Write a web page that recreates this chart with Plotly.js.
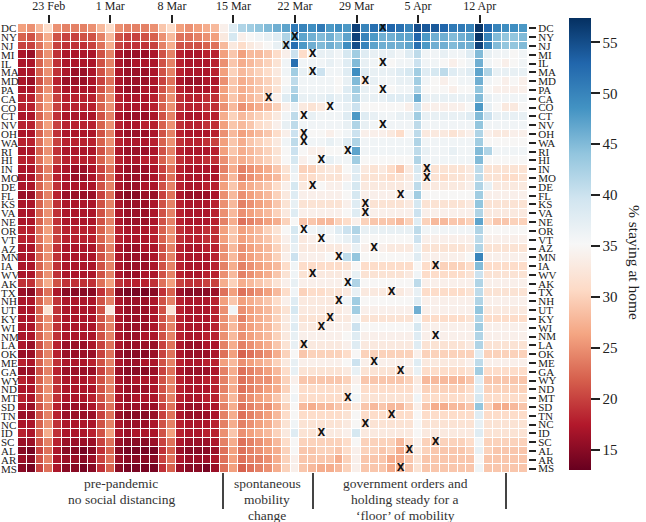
<!DOCTYPE html>
<html><head><meta charset="utf-8">
<script src="https://cdn.plot.ly/plotly-3.0.1.min.js"></script>
<style>html,body{margin:0;padding:0;background:#fff}#chart{width:646px;height:522px}</style>
</head><body><div id="chart"></div>
<script>
// Columns: one per day, 20 Feb 2020 (index 0) .. 17 Apr 2020 (index 57)
const states = ['DC','NY','NJ','MI','IL','MA','MD','PA','CA','CO','CT','NV','OH','WA','RI','HI','IN','MO','DE','FL','KS','VA','NE','OR','VT','AZ','MN','IA','WV','AK','TX','NH','UT','KY','WI','NM','LA','OK','ME','GA','WY','ND','MT','SD','TN','NC','ID','SC','AL','AR','MS'];

const DC = [26,25,28,31,25,24,24,24,25,28,31,25,24,24,24,25,29,31,26,25,26,27,28, 34,38,42,43,44,45,46,47,51, 50,49,51,48,49,48,56,50,52,51,53,52,50,55,54,54,53,51,51,50,57,53,50,49,49,48];
const NY = [22,21,24,27,21,20,20,21,21,24,28,21,20,20,21,22,25,28,23,23,24,25,26, 33,39,34,35,36,37,38,42,48, 47,46,45,46,44,47,56,50,48,46,46,47,47,53,48,46,46,45,46,47,57,50,45,44,44,45];
const NJ = [20,20,23,26,20,19,19,19,20,23,27,20,19,19,19,20,24,27,21,21,21,22,23, 28,33,31,33,34,35,37,41,52, 48,46,45,46,45,49,55,50,47,46,46,46,47,52,48,46,46,45,46,46,56,50,45,44,44,45];
const MI = [17,16,22,25,19,17,17,17,17,21,24,17,16,16,16,17,21,24,18,17,17,18,18, 26,29,26,28,28,29,31,34,40, 31,35,37,37,36,39,43,38,37,37,37,36,38,41,36,36,37,36,36,38,45,37,36,36,35,36];
const IL = [17,17,22,25,19,17,17,17,17,21,24,17,16,17,17,17,21,24,18,17,17,17,18, 25,29,27,28,29,30,32,36,52, 36,36,36,37,36,38,45,37,36,37,35,36,36,40,36,36,35,34,35,36,46,36,35,34,35,36];
const MA = [17,17,22,25,19,17,16,16,17,21,24,17,16,16,16,17,21,24,18,17,17,17,18, 26,30,28,29,30,31,33,36,43, 37,37,40,36,36,38,49,38,37,37,37,38,39,43,38,39,41,38,37,38,47,42,37,37,37,37];
const MD = [17,16,21,24,18,16,16,16,17,20,23,17,16,16,16,17,20,23,17,16,16,17,17, 25,29,27,28,29,30,32,35,41, 36,36,36,36,35,37,45,33,37,36,36,37,37,43,36,35,34,35,36,36,46,36,35,34,35,34];
const PA = [17,17,22,25,19,17,17,17,17,21,24,17,16,16,17,17,21,24,18,17,17,17,18, 26,29,27,28,29,30,32,36,42, 36,36,36,36,35,38,43,37,36,36,35,36,36,42,35,35,35,34,35,35,44,35,34,34,34,34];
const CA = [18,18,23,26,20,18,18,18,18,22,25,18,17,17,17,18,22,25,19,18,18,19,19, 26,29,27,28,29,31,34,38,43, 37,37,37,38,37,38,42,37,37,37,38,38,38,46,37,37,37,37,37,37,45,37,36,36,36,36];
const CO = [18,18,23,26,20,18,18,18,18,22,25,18,17,17,17,18,22,25,19,18,18,19,19, 25,28,25,26,27,28,30,34,37, 33,32,33,35,36,37,40,35,35,35,35,35,34,40,34,34,34,34,34,35,48,37,35,33,33,35];
const CT = [17,17,22,25,19,17,17,17,17,21,24,17,16,16,16,17,21,24,18,17,17,18,18, 27,30,28,29,30,31,33,36,41, 35,37,36,36,36,38,48,38,37,36,36,37,37,43,37,37,37,37,37,38,45,40,37,37,37,37];
const NV = [18,18,23,26,20,18,18,18,18,22,25,18,17,17,18,18,22,25,19,18,18,19,19, 26,29,28,29,31,32,34,37,41, 36,36,36,36,36,37,42,37,36,36,36,36,36,41,36,36,36,36,36,36,44,36,36,36,36,36];
const OH = [17,17,22,25,19,17,17,17,17,21,24,17,16,16,16,17,21,24,18,17,17,17,18, 25,28,26,27,28,29,31,34,40, 34,35,35,34,35,36,40,34,34,34,33,31,35,41,33,33,33,32,33,34,42,34,33,33,34,34];
const WA = [18,18,23,26,20,18,18,18,18,22,25,18,17,17,17,18,22,25,19,18,18,19,20, 26,29,27,29,30,31,33,36,41, 35,36,36,37,36,38,42,36,36,36,36,36,36,42,36,36,36,36,36,36,43,35,35,35,35,35];
const RI = [17,17,22,25,19,17,17,17,17,21,24,17,16,16,16,17,21,24,18,17,17,17,18, 26,29,27,28,29,30,32,35,40, 35,34,34,35,35,36,47,36,36,36,36,36,36,41,37,36,36,37,36,36,45,42,36,36,36,36];
const HI = [18,18,23,26,20,18,18,18,18,22,25,18,17,17,18,18,22,25,19,18,18,19,19, 25,28,27,28,29,30,32,35,39, 34,35,36,37,36,36,43,35,35,35,35,35,35,42,36,36,36,36,36,36,45,35,35,35,35,35];
const IN = [17,17,21,24,18,17,16,16,17,20,23,17,16,16,16,17,20,23,18,17,17,17,17, 24,27,24,25,26,27,29,32,37, 30,30,32,33,32,35,38,33,32,33,31,29,33,39,32,32,32,32,32,33,41,32,32,32,32,32];
const MO = [17,17,21,24,18,17,16,16,17,20,23,17,16,16,16,17,20,23,18,17,17,17,17, 25,28,24,25,26,27,28,31,36, 31,31,32,32,32,34,38,32,32,32,31,32,33,38,32,32,31,32,32,33,41,32,32,31,31,32];
const DE = [17,17,22,25,19,17,17,17,17,21,24,17,16,16,17,17,21,24,18,17,17,18,18, 26,29,26,27,28,29,31,34,39, 33,34,35,34,34,36,39,33,33,33,33,33,34,41,33,33,33,33,33,34,42,37,33,33,33,33];
const FL = [16,16,21,24,18,16,16,16,16,20,23,16,15,15,16,16,20,23,17,16,16,16,17, 25,28,25,26,27,28,30,33,38, 34,34,34,34,34,35,39,34,34,34,34,34,36,43,35,35,35,35,35,35,43,34,34,34,34,34];
const KS = [17,17,22,25,19,17,17,17,17,21,24,17,16,16,16,17,21,24,18,17,17,17,18, 25,28,24,25,26,27,29,32,37, 32,32,32,32,32,34,38,33,32,32,32,32,33,39,32,32,32,32,32,33,44,32,32,32,32,32];
const VA = [17,17,22,25,19,17,17,17,17,21,24,17,16,16,16,17,21,24,18,17,17,17,18, 25,28,25,26,27,28,30,33,38, 34,34,34,34,34,35,38,34,34,34,34,34,34,40,34,34,34,34,34,34,42,33,33,33,33,33];
const NE = [17,17,22,25,19,17,17,17,17,21,24,17,16,16,16,17,21,24,18,17,17,17,18, 24,27,23,24,25,26,27,30,35, 29,29,28,28,30,31,34,30,29,29,29,28,30,38,30,28,28,29,29,30,47,31,29,29,30,30];
const OR = [18,18,23,26,20,18,18,18,18,22,25,18,17,17,17,18,22,25,19,18,18,19,19, 26,29,26,27,28,30,32,35,39, 35,36,37,36,38,40,42,37,37,37,37,37,37,41,36,36,36,36,36,36,42,35,35,35,35,35];
const VT = [18,18,23,26,20,18,18,18,18,22,25,18,17,17,17,18,22,25,19,18,18,19,19, 26,29,26,27,28,29,31,34,38, 33,34,35,35,36,37,40,35,35,35,35,35,35,40,34,34,34,34,34,34,41,34,34,34,34,34];
const AZ = [17,17,22,25,19,17,17,17,17,21,24,17,16,16,17,17,21,24,18,17,17,18,18, 25,28,25,26,27,28,30,33,37, 33,33,33,33,33,34,37,34,34,34,33,33,33,37,32,32,32,32,32,33,42,32,32,32,32,32];
const MN = [17,17,22,25,19,17,17,17,17,21,24,17,16,16,16,17,21,24,18,17,17,17,18, 25,28,25,26,27,28,30,34,40, 34,34,34,35,34,41,44,35,35,35,35,35,35,38,34,34,34,34,34,35,50,34,34,34,34,34];
const IA = [17,17,22,25,19,17,17,17,17,21,24,17,16,16,16,17,21,24,18,17,17,17,18, 24,27,24,25,26,27,28,31,36, 31,31,31,31,31,32,35,31,31,31,31,31,31,35,31,31,30,30,30,31,45,31,31,31,31,31];
const WV = [17,17,22,25,19,17,17,17,17,21,24,17,16,16,17,17,21,24,18,17,17,18,18, 25,28,24,25,26,27,29,32,36, 32,33,33,33,33,34,37,32,32,32,32,32,33,36,31,31,31,31,31,32,40,32,32,32,32,32];
const AK = [19,19,24,27,21,19,19,19,19,23,26,19,18,18,18,19,23,26,20,19,19,20,20, 27,30,27,28,29,30,32,34,37, 34,34,34,34,34,36,42,35,35,35,35,35,35,41,34,34,34,34,34,34,42,34,34,34,34,34];
const TX = [16,15,20,23,17,15,15,15,15,19,22,15,14,14,14,15,19,22,16,15,15,15,16, 23,26,23,24,25,26,28,31,36, 30,31,31,32,32,33,37,33,33,33,33,33,34,37,31,31,31,31,31,32,41,32,32,32,32,32];
const NH = [17,17,22,25,19,17,17,17,17,21,24,17,16,16,16,17,21,24,18,17,17,17,18, 26,29,26,27,28,29,31,34,38, 33,33,33,33,33,36,43,35,35,35,35,35,35,38,34,34,34,34,34,34,42,34,34,34,34,34];
const UT = [17,17,22,32,19,17,17,17,17,21,33,17,16,16,16,17,21,32,18,17,17,17,18, 25,36,25,26,27,28,30,32,39, 33,33,33,33,33,34,43,34,34,34,34,34,34,46,34,34,34,34,34,34,44,33,33,33,33,33];
const KY = [17,17,22,25,19,17,17,17,17,21,24,17,16,16,16,17,21,24,18,17,17,17,18, 25,28,24,26,27,28,30,33,37, 32,32,32,32,33,33,36,32,32,32,32,32,32,36,31,31,31,31,31,32,42,31,31,31,31,31];
const WI = [17,17,22,25,19,17,17,17,17,21,24,17,16,16,16,17,21,24,18,17,17,17,18, 25,28,25,26,27,28,30,33,38, 33,33,33,34,34,34,40,35,35,35,35,35,35,39,34,34,34,34,34,34,43,34,34,34,34,34];
const NM = [17,17,22,25,19,17,17,17,17,21,24,17,16,16,17,17,21,24,18,17,17,18,18, 25,28,25,26,27,28,30,33,37, 34,34,34,34,34,35,38,34,34,34,34,34,34,38,34,34,34,34,34,34,42,34,34,34,34,34];
const LA = [17,16,21,24,18,16,16,16,17,20,23,17,16,16,16,16,20,23,17,16,16,17,17, 24,27,24,25,26,27,29,32,37, 32,33,33,33,33,34,38,33,33,33,33,33,33,38,32,32,32,32,32,33,42,32,32,32,32,32];
const OK = [16,16,21,24,18,16,16,16,16,20,23,16,15,15,15,16,20,23,17,16,16,16,17, 23,26,22,23,24,25,27,30,35, 29,30,30,30,30,31,35,30,30,30,30,30,30,34,30,30,30,30,30,30,38,30,30,30,30,30];
const ME = [18,17,22,25,19,17,17,17,18,21,24,17,16,16,17,17,21,24,18,17,17,18,18, 26,28,25,26,27,28,30,33,37, 34,34,34,34,34,35,40,34,34,34,34,34,34,38,33,33,33,33,33,34,41,34,34,34,34,34];
const GA = [16,16,21,24,18,16,16,16,16,20,23,16,15,15,15,16,20,23,17,16,16,16,17, 24,27,23,24,25,26,28,31,37, 32,32,32,32,32,33,37,32,32,32,32,32,33,37,31,31,31,31,31,32,43,31,31,31,31,31];
const WY = [18,17,22,25,19,17,17,17,18,21,24,17,16,17,17,17,21,24,18,17,17,18,18, 24,27,23,24,25,25,27,30,34, 29,29,29,29,29,30,34,29,29,29,29,29,30,33,28,28,28,28,28,29,38,29,29,29,29,29];
const ND = [17,17,22,25,19,17,17,17,17,21,24,17,16,16,16,17,21,24,18,17,17,17,18, 24,27,23,24,25,26,27,30,35, 31,31,31,31,31,32,35,31,31,31,31,31,31,34,30,30,30,30,30,31,38,30,30,30,30,30];
const MT = [18,17,22,25,19,17,17,17,18,21,24,17,16,17,17,17,21,24,18,17,17,18,18, 25,28,24,25,26,27,29,32,36, 31,31,31,31,31,32,36,32,32,32,32,32,32,36,31,31,31,31,31,32,39,31,31,31,31,31];
const SD = [17,16,21,24,18,16,16,16,17,20,23,17,16,16,16,16,20,23,17,16,16,17,17, 24,27,23,24,25,25,27,30,35, 28,27,28,28,29,30,33,29,28,29,28,28,30,34,29,27,27,28,28,29,44,30,27,27,28,29];
const TN = [16,16,21,24,18,16,16,16,16,20,23,16,15,15,15,16,20,23,17,16,16,16,17, 24,27,23,24,25,26,28,31,35, 31,31,31,31,31,32,35,31,31,31,31,31,31,35,31,31,31,31,31,31,38,31,31,31,31,31];
const NC = [17,17,22,25,19,17,17,17,17,21,24,17,16,16,16,17,21,24,18,17,17,17,18, 24,27,24,25,26,27,29,32,36, 32,32,32,32,32,33,35,32,32,32,32,32,32,35,32,32,32,32,32,32,37,32,32,32,32,32];
const ID = [18,17,22,27,19,17,17,17,18,21,26,17,16,17,17,17,21,26,18,17,17,18,18, 25,29,25,26,27,28,30,33,38, 32,32,33,33,33,34,39,33,33,33,33,33,33,35,33,33,33,33,33,33,38,32,32,32,32,32];
const SC = [16,16,21,24,18,16,16,16,16,20,23,16,15,15,15,16,20,23,17,16,16,16,17, 24,27,23,24,25,26,28,31,35, 30,30,30,30,30,31,35,30,30,30,30,28,31,34,30,30,30,30,30,31,36,30,30,30,30,30];
const AL = [15,14,20,23,17,15,15,14,15,19,22,15,14,14,14,14,19,22,16,15,15,15,16, 23,26,23,24,25,26,27,30,35, 29,29,30,30,29,31,34,30,30,29,30,27,30,33,30,29,29,29,29,30,37,30,29,29,29,29];
const AR = [16,15,21,24,17,16,16,15,16,20,23,16,15,15,15,15,20,23,17,16,16,16,17, 23,26,23,24,24,25,27,30,34, 29,29,29,29,27,30,34,29,29,29,27,27,29,32,29,29,29,29,29,29,35,29,29,29,29,29];
const MS = [15,14,20,23,17,15,15,14,15,19,22,15,14,14,14,14,19,22,16,15,15,14,16, 23,26,22,23,24,25,27,30,34, 29,28,27,27,28,30,34,29,29,29,27,28,29,32,29,29,29,29,29,29,36,29,29,29,29,29];

const tickLabels = ['23 Feb','1 Mar','8 Mar','15 Mar','22 Mar','29 Mar','5 Apr','12 Apr'];
const orderStates = ['DC','NY','NJ','MI','IL','MA','MD','PA','CA','CO','CT','NV','OH','WA','RI','HI','IN','MO','DE','FL','KS','VA','OR','VT','AZ','MN','IA','WV','AK','TX','NH','KY','WI','NM','LA','ME','GA','MT','TN','NC','ID','SC','AL','MS'];
const orderDates = ['1 Apr','22 Mar','21 Mar','24 Mar','1 Apr','24 Mar','30 Mar','1 Apr','19 Mar','26 Mar','23 Mar','1 Apr','23 Mar','23 Mar','28 Mar','25 Mar','6 Apr','6 Apr','24 Mar','3 Apr','30 Mar','30 Mar','23 Mar','25 Mar','31 Mar','27 Mar','7 Apr','24 Mar','28 Mar','2 Apr','27 Mar','26 Mar','25 Mar','7 Apr','23 Mar','31 Mar','3 Apr','28 Mar','2 Apr','30 Mar','25 Mar','7 Apr','4 Apr','3 Apr'];

const z = [DC,NY,NJ,MI,IL,MA,MD,PA,CA,CO,CT,NV,OH,WA,RI,HI,IN,MO,DE,FL,KS,VA,NE,OR,VT,AZ,MN,IA,WV,AK,TX,NH,UT,KY,WI,NM,LA,OK,ME,GA,WY,ND,MT,SD,TN,NC,ID,SC,AL,AR,MS];

function dayIndex(s){ const p=s.split(' '); const base={Feb:-20,Mar:9,Apr:40}[p[1]]; return base + Number(p[0]); }

const SERIF = 'Liberation Serif, Times New Roman, serif';
const W=646,H=522, L=18, R=528, T=24, B=473;
const px2x = p => (p-L)/(R-L);
const py2y = p => (B-p)/(B-T);

const rdbu = [[0,'#67001f'],[0.1,'#b2182b'],[0.2,'#d6604d'],[0.3,'#f4a582'],[0.4,'#fddbc7'],[0.5,'#f7f7f7'],[0.6,'#d1e5f0'],[0.7,'#92c5de'],[0.8,'#4393c3'],[0.9,'#2166ac'],[1,'#053061']];

const heat = {
  type:'heatmap', z:z, colorscale:rdbu, zmin:13, zmax:57.4, xgap:1, ygap:1, hoverinfo:'skip',
  colorbar:{thickness:22, thicknessmode:'pixels', len:(470-18.3)/(B-T), lenmode:'fraction',
    x:px2x(569), xanchor:'left', y:py2y(470), yanchor:'bottom', xpad:0, ypad:0,
    outlinewidth:0, ticks:'outside', ticklen:9, tickwidth:2, tickcolor:'#222',
    tickvals:[15,20,25,30,35,40,45,50,55], tickfont:{family:SERIF, size:15, color:'#222'}}
};
const marks = {
  type:'scatter', mode:'text', x:orderDates.map(dayIndex), y:orderStates.map(s=>states.indexOf(s)),
  text:orderStates.map(()=> '<b>X</b>'), textposition:'middle center',
  textfont:{family:'DejaVu Sans', size:10, color:'#111'}, hoverinfo:'skip', showlegend:false
};

const annotations = states.map((s,i)=>({text:s, x:px2x(-1), xref:'paper', y:i, yref:'y', xanchor:'left', showarrow:false, font:{family:SERIF,size:11,color:'#222'}}));
annotations.push({text:'% staying at home', textangle:90, x:px2x(635), y:py2y(262), xref:'paper', yref:'paper', xanchor:'center', yanchor:'middle', showarrow:false, font:{family:SERIF,size:15.5,color:'#222'}});
const groups = [
  {cx:121, lines:['pre-pandemic','no social distancing']},
  {cx:267, lines:['spontaneous','mobility','change']},
  {cx:405, lines:['government orders and','holding steady for a','\u2018floor\u2019 of mobility']}
];
groups.forEach(g=>g.lines.forEach((t,k)=>annotations.push({text:t, x:px2x(g.cx), y:py2y(483+16*k), xref:'paper', yref:'paper', xanchor:'center', yanchor:'middle', showarrow:false, font:{family:SERIF,size:13.5,color:'#333'}})));
const shapes = [223,313,506].map(p=>({type:'line', xref:'paper', yref:'paper', x0:px2x(p), x1:px2x(p), y0:py2y(473), y1:py2y(509), line:{color:'#444', width:2}}));

const layout = {
  width:W, height:H, margin:{l:L, r:W-R, t:T, b:H-B, pad:0},
  paper_bgcolor:'#fff', plot_bgcolor:'#fff', showlegend:false,
  xaxis:{range:[-0.5,57.5], side:'top', tickvals:tickLabels.map(dayIndex), ticktext:tickLabels, ticks:'outside', ticklen:8, tickwidth:2, tickcolor:'#222', showgrid:false, zeroline:false, showline:false, tickfont:{family:SERIF,size:12,color:'#222'}},
  yaxis:{range:[50.5,-0.5], side:'right', tickvals:states.map((s,i)=>i), ticktext:states, ticks:'outside', ticklen:7, tickwidth:2, tickcolor:'#222', showgrid:false, zeroline:false, showline:false, tickfont:{family:SERIF,size:11,color:'#222'}},
  annotations:annotations, shapes:shapes
};
Plotly.newPlot('chart',[heat,marks],layout,{displayModeBar:false, staticPlot:true});
</script></body></html>
